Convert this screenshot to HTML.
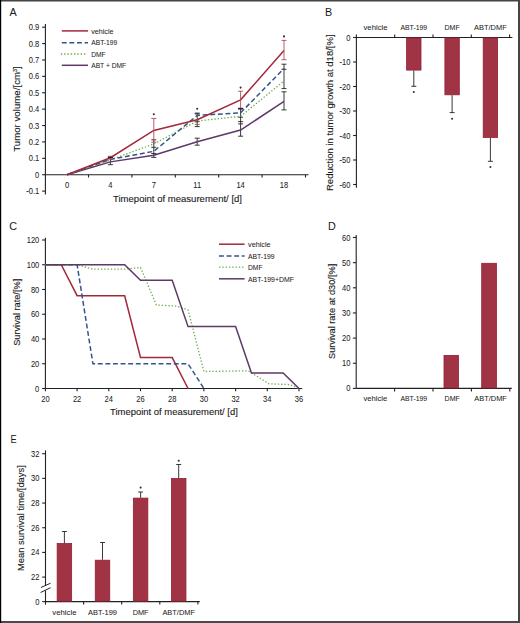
<!DOCTYPE html><html><head><meta charset="utf-8"><style>html,body{margin:0;padding:0;background:#fff;}svg{display:block;}</style></head><body>
<svg width="520" height="623" viewBox="0 0 520 623" font-family='"Liberation Sans", sans-serif'>
<rect x="0" y="0" width="520" height="623" fill="#fff"/>
<rect x="0" y="0" width="520" height="1.5" fill="#444"/>
<rect x="518" y="0" width="2" height="623" fill="#444"/>
<rect x="0" y="621" width="520" height="2" fill="#4a4a4a"/>
<rect x="0" y="0" width="1.2" height="623" fill="#000"/>
<text x="9.50" y="15.90" font-size="10.8" text-anchor="start" fill="#1a1a1a" stroke="#1a1a1a" stroke-width="0.04" >A</text>
<line x1="45.40" y1="23.90" x2="45.40" y2="194.40" stroke="#222" stroke-width="1.1" />
<line x1="42.10" y1="191.09" x2="45.40" y2="191.09" stroke="#222" stroke-width="1.1" />
<text x="39.30" y="194.09" font-size="8.2" text-anchor="end" fill="#1a1a1a" stroke="#1a1a1a" stroke-width="0.04" textLength="13.00" lengthAdjust="spacingAndGlyphs" >-0.1</text>
<line x1="42.10" y1="174.70" x2="45.40" y2="174.70" stroke="#222" stroke-width="1.1" />
<text x="39.30" y="177.70" font-size="8.2" text-anchor="end" fill="#1a1a1a" stroke="#1a1a1a" stroke-width="0.04" textLength="4.20" lengthAdjust="spacingAndGlyphs" >0</text>
<line x1="42.10" y1="158.31" x2="45.40" y2="158.31" stroke="#222" stroke-width="1.1" />
<text x="39.30" y="161.31" font-size="8.2" text-anchor="end" fill="#1a1a1a" stroke="#1a1a1a" stroke-width="0.04" textLength="10.49" lengthAdjust="spacingAndGlyphs" >0.1</text>
<line x1="42.10" y1="141.92" x2="45.40" y2="141.92" stroke="#222" stroke-width="1.1" />
<text x="39.30" y="144.92" font-size="8.2" text-anchor="end" fill="#1a1a1a" stroke="#1a1a1a" stroke-width="0.04" textLength="10.49" lengthAdjust="spacingAndGlyphs" >0.2</text>
<line x1="42.10" y1="125.53" x2="45.40" y2="125.53" stroke="#222" stroke-width="1.1" />
<text x="39.30" y="128.53" font-size="8.2" text-anchor="end" fill="#1a1a1a" stroke="#1a1a1a" stroke-width="0.04" textLength="10.49" lengthAdjust="spacingAndGlyphs" >0.3</text>
<line x1="42.10" y1="109.14" x2="45.40" y2="109.14" stroke="#222" stroke-width="1.1" />
<text x="39.30" y="112.14" font-size="8.2" text-anchor="end" fill="#1a1a1a" stroke="#1a1a1a" stroke-width="0.04" textLength="10.49" lengthAdjust="spacingAndGlyphs" >0.4</text>
<line x1="42.10" y1="92.75" x2="45.40" y2="92.75" stroke="#222" stroke-width="1.1" />
<text x="39.30" y="95.75" font-size="8.2" text-anchor="end" fill="#1a1a1a" stroke="#1a1a1a" stroke-width="0.04" textLength="10.49" lengthAdjust="spacingAndGlyphs" >0.5</text>
<line x1="42.10" y1="76.36" x2="45.40" y2="76.36" stroke="#222" stroke-width="1.1" />
<text x="39.30" y="79.36" font-size="8.2" text-anchor="end" fill="#1a1a1a" stroke="#1a1a1a" stroke-width="0.04" textLength="10.49" lengthAdjust="spacingAndGlyphs" >0.6</text>
<line x1="42.10" y1="59.97" x2="45.40" y2="59.97" stroke="#222" stroke-width="1.1" />
<text x="39.30" y="62.97" font-size="8.2" text-anchor="end" fill="#1a1a1a" stroke="#1a1a1a" stroke-width="0.04" textLength="10.49" lengthAdjust="spacingAndGlyphs" >0.7</text>
<line x1="42.10" y1="43.58" x2="45.40" y2="43.58" stroke="#222" stroke-width="1.1" />
<text x="39.30" y="46.58" font-size="8.2" text-anchor="end" fill="#1a1a1a" stroke="#1a1a1a" stroke-width="0.04" textLength="10.49" lengthAdjust="spacingAndGlyphs" >0.8</text>
<line x1="42.10" y1="27.19" x2="45.40" y2="27.19" stroke="#222" stroke-width="1.1" />
<text x="39.30" y="30.19" font-size="8.2" text-anchor="end" fill="#1a1a1a" stroke="#1a1a1a" stroke-width="0.04" textLength="10.49" lengthAdjust="spacingAndGlyphs" >0.9</text>
<line x1="45.40" y1="174.70" x2="308.50" y2="174.70" stroke="#222" stroke-width="1.1" />
<line x1="88.50" y1="174.70" x2="88.50" y2="177.50" stroke="#222" stroke-width="1.1" />
<line x1="131.90" y1="174.70" x2="131.90" y2="177.50" stroke="#222" stroke-width="1.1" />
<line x1="175.30" y1="174.70" x2="175.30" y2="177.50" stroke="#222" stroke-width="1.1" />
<line x1="218.70" y1="174.70" x2="218.70" y2="177.50" stroke="#222" stroke-width="1.1" />
<line x1="262.10" y1="174.70" x2="262.10" y2="177.50" stroke="#222" stroke-width="1.1" />
<line x1="305.50" y1="174.70" x2="305.50" y2="177.50" stroke="#222" stroke-width="1.1" />
<text x="67.00" y="188.30" font-size="8.2" text-anchor="middle" fill="#1a1a1a" stroke="#1a1a1a" stroke-width="0.04" textLength="4.20" lengthAdjust="spacingAndGlyphs" >0</text>
<text x="110.40" y="188.30" font-size="8.2" text-anchor="middle" fill="#1a1a1a" stroke="#1a1a1a" stroke-width="0.04" textLength="4.20" lengthAdjust="spacingAndGlyphs" >4</text>
<text x="153.80" y="188.30" font-size="8.2" text-anchor="middle" fill="#1a1a1a" stroke="#1a1a1a" stroke-width="0.04" textLength="4.20" lengthAdjust="spacingAndGlyphs" >7</text>
<text x="197.20" y="188.30" font-size="8.2" text-anchor="middle" fill="#1a1a1a" stroke="#1a1a1a" stroke-width="0.04" textLength="7.83" lengthAdjust="spacingAndGlyphs" >11</text>
<text x="240.60" y="188.30" font-size="8.2" text-anchor="middle" fill="#1a1a1a" stroke="#1a1a1a" stroke-width="0.04" textLength="8.39" lengthAdjust="spacingAndGlyphs" >14</text>
<text x="284.00" y="188.30" font-size="8.2" text-anchor="middle" fill="#1a1a1a" stroke="#1a1a1a" stroke-width="0.04" textLength="8.39" lengthAdjust="spacingAndGlyphs" >18</text>
<text x="113.00" y="201.50" font-size="9.8" text-anchor="start" fill="#1a1a1a" stroke="#1a1a1a" stroke-width="0.12" textLength="129.00" lengthAdjust="spacingAndGlyphs" >Timepoint of measurement/ [d]</text>
<text transform="translate(19.8,151.8) rotate(-90)" font-size="9.8" stroke="#1a1a1a" stroke-width="0.12" fill="#1a1a1a" textLength="85.6" lengthAdjust="spacingAndGlyphs">Tumor volume/[cm<tspan font-size="5.5" dy="-3">3</tspan><tspan dy="3">]</tspan></text>
<line x1="61.80" y1="30.90" x2="88.00" y2="30.90" stroke="#a3283a" stroke-width="1.5" />
<line x1="61.80" y1="42.70" x2="88.00" y2="42.70" stroke="#33568a" stroke-width="1.5" stroke-dasharray="4.9 2.7"/>
<line x1="60.80" y1="54.00" x2="87.00" y2="54.00" stroke="#6fae4e" stroke-width="1.3" stroke-dasharray="1.4 1.9"/>
<line x1="61.80" y1="65.30" x2="88.00" y2="65.30" stroke="#5e3868" stroke-width="1.5" />
<text x="91.20" y="33.60" font-size="7.9" text-anchor="start" fill="#1a1a1a" stroke="#1a1a1a" stroke-width="0.04" textLength="22.30" lengthAdjust="spacingAndGlyphs" >vehicle</text>
<text x="91.20" y="45.40" font-size="7.9" text-anchor="start" fill="#1a1a1a" stroke="#1a1a1a" stroke-width="0.04" textLength="26.10" lengthAdjust="spacingAndGlyphs" >ABT-199</text>
<text x="91.20" y="56.70" font-size="7.9" text-anchor="start" fill="#1a1a1a" stroke="#1a1a1a" stroke-width="0.04" textLength="14.50" lengthAdjust="spacingAndGlyphs" >DMF</text>
<text x="91.20" y="68.00" font-size="7.9" text-anchor="start" fill="#1a1a1a" stroke="#1a1a1a" stroke-width="0.04" textLength="35.00" lengthAdjust="spacingAndGlyphs" >ABT + DMF</text>
<line x1="110.40" y1="157.30" x2="110.40" y2="164.70" stroke="#222" stroke-width="0.9" />
<line x1="107.90" y1="157.30" x2="112.90" y2="157.30" stroke="#222" stroke-width="0.9" />
<line x1="107.90" y1="164.70" x2="112.90" y2="164.70" stroke="#222" stroke-width="0.9" />
<line x1="153.80" y1="139.80" x2="153.80" y2="157.40" stroke="#222" stroke-width="0.9" />
<line x1="151.30" y1="139.80" x2="156.30" y2="139.80" stroke="#222" stroke-width="0.9" />
<line x1="151.30" y1="157.40" x2="156.30" y2="157.40" stroke="#222" stroke-width="0.9" />
<line x1="151.30" y1="147.30" x2="156.30" y2="147.30" stroke="#222" stroke-width="0.9" />
<line x1="151.30" y1="153.50" x2="156.30" y2="153.50" stroke="#222" stroke-width="0.9" />
<line x1="197.20" y1="113.10" x2="197.20" y2="126.60" stroke="#222" stroke-width="0.9" />
<line x1="194.70" y1="113.10" x2="199.70" y2="113.10" stroke="#222" stroke-width="0.9" />
<line x1="194.70" y1="126.60" x2="199.70" y2="126.60" stroke="#222" stroke-width="0.9" />
<line x1="194.70" y1="113.90" x2="199.70" y2="113.90" stroke="#222" stroke-width="0.9" />
<line x1="194.70" y1="121.70" x2="199.70" y2="121.70" stroke="#222" stroke-width="0.9" />
<line x1="197.20" y1="138.20" x2="197.20" y2="145.20" stroke="#222" stroke-width="0.9" />
<line x1="194.70" y1="138.20" x2="199.70" y2="138.20" stroke="#222" stroke-width="0.9" />
<line x1="194.70" y1="145.20" x2="199.70" y2="145.20" stroke="#222" stroke-width="0.9" />
<line x1="240.60" y1="108.70" x2="240.60" y2="136.20" stroke="#222" stroke-width="0.9" />
<line x1="238.10" y1="108.70" x2="243.10" y2="108.70" stroke="#222" stroke-width="0.9" />
<line x1="238.10" y1="136.20" x2="243.10" y2="136.20" stroke="#222" stroke-width="0.9" />
<line x1="238.10" y1="117.20" x2="243.10" y2="117.20" stroke="#222" stroke-width="0.9" />
<line x1="238.10" y1="121.60" x2="243.10" y2="121.60" stroke="#222" stroke-width="0.9" />
<line x1="238.10" y1="123.90" x2="243.10" y2="123.90" stroke="#222" stroke-width="0.9" />
<line x1="284.00" y1="64.20" x2="284.00" y2="88.60" stroke="#222" stroke-width="0.9" />
<line x1="281.50" y1="64.20" x2="286.50" y2="64.20" stroke="#222" stroke-width="0.9" />
<line x1="281.50" y1="88.60" x2="286.50" y2="88.60" stroke="#222" stroke-width="0.9" />
<line x1="281.50" y1="69.30" x2="286.50" y2="69.30" stroke="#222" stroke-width="0.9" />
<line x1="284.00" y1="91.80" x2="284.00" y2="109.90" stroke="#222" stroke-width="0.9" />
<line x1="281.50" y1="91.80" x2="286.50" y2="91.80" stroke="#222" stroke-width="0.9" />
<line x1="281.50" y1="109.90" x2="286.50" y2="109.90" stroke="#222" stroke-width="0.9" />
<polyline points="67.00,174.70 110.40,161.86 153.80,155.28 197.20,141.78 240.60,130.09 284.00,101.45" fill="none" stroke="#5e3868" stroke-width="1.5" stroke-linejoin="miter" stroke-linecap="butt"/>
<polyline points="67.00,174.70 110.40,159.89 153.80,143.92 197.20,121.04 240.60,116.27 284.00,81.04" fill="none" stroke="#6fae4e" stroke-width="1.3" stroke-linejoin="miter" stroke-linecap="butt" stroke-dasharray="1.4 1.9"/>
<polyline points="67.00,174.70 110.40,159.39 153.80,151.33 197.20,115.44 240.60,112.81 284.00,68.53" fill="none" stroke="#33568a" stroke-width="1.5" stroke-linejoin="miter" stroke-linecap="butt" stroke-dasharray="4.9 2.7"/>
<polyline points="67.00,174.70 110.40,157.75 153.80,130.42 197.20,119.72 240.60,99.81 284.00,50.43" fill="none" stroke="#a3283a" stroke-width="1.5" stroke-linejoin="miter" stroke-linecap="butt"/>
<line x1="110.40" y1="156.30" x2="110.40" y2="159.00" stroke="#b04a5a" stroke-width="0.9" />
<line x1="107.90" y1="156.30" x2="112.90" y2="156.30" stroke="#b04a5a" stroke-width="0.9" />
<line x1="107.90" y1="159.00" x2="112.90" y2="159.00" stroke="#b04a5a" stroke-width="0.9" />
<line x1="153.80" y1="118.40" x2="153.80" y2="142.20" stroke="#b04a5a" stroke-width="0.9" />
<line x1="151.30" y1="118.40" x2="156.30" y2="118.40" stroke="#b04a5a" stroke-width="0.9" />
<line x1="151.30" y1="142.20" x2="156.30" y2="142.20" stroke="#b04a5a" stroke-width="0.9" />
<line x1="194.70" y1="124.40" x2="199.70" y2="124.40" stroke="#b04a5a" stroke-width="0.9" />
<line x1="240.60" y1="91.20" x2="240.60" y2="108.10" stroke="#b04a5a" stroke-width="0.9" />
<line x1="238.10" y1="91.20" x2="243.10" y2="91.20" stroke="#b04a5a" stroke-width="0.9" />
<line x1="238.10" y1="108.10" x2="243.10" y2="108.10" stroke="#b04a5a" stroke-width="0.9" />
<line x1="284.00" y1="40.40" x2="284.00" y2="59.70" stroke="#b04a5a" stroke-width="0.9" />
<line x1="281.50" y1="40.40" x2="286.50" y2="40.40" stroke="#b04a5a" stroke-width="0.9" />
<line x1="281.50" y1="59.70" x2="286.50" y2="59.70" stroke="#b04a5a" stroke-width="0.9" />
<line x1="238.10" y1="108.80" x2="243.10" y2="108.80" stroke="#222" stroke-width="1.3" />
<line x1="107.90" y1="157.40" x2="112.90" y2="157.40" stroke="#222" stroke-width="1.3" />
<circle cx="153.80" cy="114.20" r="1.05" fill="#333"/>
<circle cx="197.20" cy="108.70" r="1.05" fill="#333"/>
<circle cx="240.60" cy="87.60" r="1.05" fill="#333"/>
<circle cx="284.00" cy="36.40" r="1.05" fill="#333"/>
<text x="324.90" y="16.30" font-size="10.8" text-anchor="start" fill="#1a1a1a" stroke="#1a1a1a" stroke-width="0.04" >B</text>
<line x1="356.40" y1="34.40" x2="356.40" y2="187.70" stroke="#222" stroke-width="1.1" />
<line x1="353.10" y1="37.50" x2="356.40" y2="37.50" stroke="#222" stroke-width="1.1" />
<text x="350.50" y="40.50" font-size="8.2" text-anchor="end" fill="#1a1a1a" stroke="#1a1a1a" stroke-width="0.04" textLength="4.20" lengthAdjust="spacingAndGlyphs" >0</text>
<line x1="353.10" y1="62.00" x2="356.40" y2="62.00" stroke="#222" stroke-width="1.1" />
<text x="350.50" y="65.00" font-size="8.2" text-anchor="end" fill="#1a1a1a" stroke="#1a1a1a" stroke-width="0.04" textLength="10.90" lengthAdjust="spacingAndGlyphs" >-10</text>
<line x1="353.10" y1="86.50" x2="356.40" y2="86.50" stroke="#222" stroke-width="1.1" />
<text x="350.50" y="89.50" font-size="8.2" text-anchor="end" fill="#1a1a1a" stroke="#1a1a1a" stroke-width="0.04" textLength="10.90" lengthAdjust="spacingAndGlyphs" >-20</text>
<line x1="353.10" y1="111.00" x2="356.40" y2="111.00" stroke="#222" stroke-width="1.1" />
<text x="350.50" y="114.00" font-size="8.2" text-anchor="end" fill="#1a1a1a" stroke="#1a1a1a" stroke-width="0.04" textLength="10.90" lengthAdjust="spacingAndGlyphs" >-30</text>
<line x1="353.10" y1="135.50" x2="356.40" y2="135.50" stroke="#222" stroke-width="1.1" />
<text x="350.50" y="138.50" font-size="8.2" text-anchor="end" fill="#1a1a1a" stroke="#1a1a1a" stroke-width="0.04" textLength="10.90" lengthAdjust="spacingAndGlyphs" >-40</text>
<line x1="353.10" y1="160.00" x2="356.40" y2="160.00" stroke="#222" stroke-width="1.1" />
<text x="350.50" y="163.00" font-size="8.2" text-anchor="end" fill="#1a1a1a" stroke="#1a1a1a" stroke-width="0.04" textLength="10.90" lengthAdjust="spacingAndGlyphs" >-50</text>
<line x1="353.10" y1="184.50" x2="356.40" y2="184.50" stroke="#222" stroke-width="1.1" />
<text x="350.50" y="187.50" font-size="8.2" text-anchor="end" fill="#1a1a1a" stroke="#1a1a1a" stroke-width="0.04" textLength="10.90" lengthAdjust="spacingAndGlyphs" >-60</text>
<line x1="356.40" y1="37.50" x2="512.40" y2="37.50" stroke="#222" stroke-width="1.1" />
<line x1="394.70" y1="37.50" x2="394.70" y2="34.50" stroke="#222" stroke-width="1.1" />
<line x1="433.00" y1="37.50" x2="433.00" y2="34.50" stroke="#222" stroke-width="1.1" />
<line x1="471.30" y1="37.50" x2="471.30" y2="34.50" stroke="#222" stroke-width="1.1" />
<line x1="509.60" y1="37.50" x2="509.60" y2="34.50" stroke="#222" stroke-width="1.1" />
<text x="375.50" y="29.70" font-size="8.0" text-anchor="middle" fill="#1a1a1a" stroke="#1a1a1a" stroke-width="0.04" textLength="24.00" lengthAdjust="spacingAndGlyphs" >vehicle</text>
<text x="413.80" y="29.70" font-size="8.0" text-anchor="middle" fill="#1a1a1a" stroke="#1a1a1a" stroke-width="0.04" textLength="26.80" lengthAdjust="spacingAndGlyphs" >ABT-199</text>
<text x="452.10" y="29.70" font-size="8.0" text-anchor="middle" fill="#1a1a1a" stroke="#1a1a1a" stroke-width="0.04" textLength="15.20" lengthAdjust="spacingAndGlyphs" >DMF</text>
<text x="490.40" y="29.70" font-size="8.0" text-anchor="middle" fill="#1a1a1a" stroke="#1a1a1a" stroke-width="0.04" textLength="32.60" lengthAdjust="spacingAndGlyphs" >ABT/DMF</text>
<rect x="406.60" y="37.90" width="14.40" height="32.20" fill="#a03444" stroke="#931f32" stroke-width="0.8"/>
<line x1="413.80" y1="70.50" x2="413.80" y2="86.30" stroke="#222" stroke-width="0.9" />
<line x1="411.30" y1="86.30" x2="416.30" y2="86.30" stroke="#222" stroke-width="0.9" />
<circle cx="413.80" cy="92.00" r="1.05" fill="#333"/>
<rect x="444.90" y="37.90" width="14.40" height="56.90" fill="#a03444" stroke="#931f32" stroke-width="0.8"/>
<line x1="452.10" y1="95.20" x2="452.10" y2="112.60" stroke="#222" stroke-width="0.9" />
<line x1="449.60" y1="112.60" x2="454.60" y2="112.60" stroke="#222" stroke-width="0.9" />
<circle cx="452.10" cy="118.75" r="1.05" fill="#333"/>
<rect x="483.20" y="37.90" width="14.40" height="99.50" fill="#a03444" stroke="#931f32" stroke-width="0.8"/>
<line x1="490.40" y1="137.80" x2="490.40" y2="161.30" stroke="#222" stroke-width="0.9" />
<line x1="487.90" y1="161.30" x2="492.90" y2="161.30" stroke="#222" stroke-width="0.9" />
<circle cx="490.40" cy="167.00" r="1.05" fill="#333"/>
<text transform="translate(332.60,191.00) rotate(-90)" x="0" y="0" font-size="9.8" fill="#1a1a1a" stroke="#1a1a1a" stroke-width="0.12" textLength="156.60" lengthAdjust="spacingAndGlyphs">Reduction in tumor growth at d18/[%]</text>
<text x="9.30" y="230.00" font-size="10.8" text-anchor="start" fill="#1a1a1a" stroke="#1a1a1a" stroke-width="0.04" >C</text>
<line x1="45.40" y1="237.70" x2="45.40" y2="388.50" stroke="#222" stroke-width="1.1" />
<line x1="42.10" y1="388.50" x2="45.40" y2="388.50" stroke="#222" stroke-width="1.1" />
<text x="39.30" y="391.50" font-size="8.2" text-anchor="end" fill="#1a1a1a" stroke="#1a1a1a" stroke-width="0.04" textLength="4.20" lengthAdjust="spacingAndGlyphs" >0</text>
<line x1="42.10" y1="363.75" x2="45.40" y2="363.75" stroke="#222" stroke-width="1.1" />
<text x="39.30" y="366.75" font-size="8.2" text-anchor="end" fill="#1a1a1a" stroke="#1a1a1a" stroke-width="0.04" textLength="8.39" lengthAdjust="spacingAndGlyphs" >20</text>
<line x1="42.10" y1="339.00" x2="45.40" y2="339.00" stroke="#222" stroke-width="1.1" />
<text x="39.30" y="342.00" font-size="8.2" text-anchor="end" fill="#1a1a1a" stroke="#1a1a1a" stroke-width="0.04" textLength="8.39" lengthAdjust="spacingAndGlyphs" >40</text>
<line x1="42.10" y1="314.25" x2="45.40" y2="314.25" stroke="#222" stroke-width="1.1" />
<text x="39.30" y="317.25" font-size="8.2" text-anchor="end" fill="#1a1a1a" stroke="#1a1a1a" stroke-width="0.04" textLength="8.39" lengthAdjust="spacingAndGlyphs" >60</text>
<line x1="42.10" y1="289.50" x2="45.40" y2="289.50" stroke="#222" stroke-width="1.1" />
<text x="39.30" y="292.50" font-size="8.2" text-anchor="end" fill="#1a1a1a" stroke="#1a1a1a" stroke-width="0.04" textLength="8.39" lengthAdjust="spacingAndGlyphs" >80</text>
<line x1="42.10" y1="264.75" x2="45.40" y2="264.75" stroke="#222" stroke-width="1.1" />
<text x="39.30" y="267.75" font-size="8.2" text-anchor="end" fill="#1a1a1a" stroke="#1a1a1a" stroke-width="0.04" textLength="12.59" lengthAdjust="spacingAndGlyphs" >100</text>
<line x1="42.10" y1="240.00" x2="45.40" y2="240.00" stroke="#222" stroke-width="1.1" />
<text x="39.30" y="243.00" font-size="8.2" text-anchor="end" fill="#1a1a1a" stroke="#1a1a1a" stroke-width="0.04" textLength="12.59" lengthAdjust="spacingAndGlyphs" >120</text>
<line x1="45.40" y1="388.50" x2="302.30" y2="388.50" stroke="#222" stroke-width="1.1" />
<line x1="45.40" y1="388.50" x2="45.40" y2="391.20" stroke="#222" stroke-width="1.1" />
<text x="45.40" y="402.00" font-size="8.2" text-anchor="middle" fill="#1a1a1a" stroke="#1a1a1a" stroke-width="0.04" textLength="8.39" lengthAdjust="spacingAndGlyphs" >20</text>
<line x1="77.10" y1="388.50" x2="77.10" y2="391.20" stroke="#222" stroke-width="1.1" />
<text x="77.10" y="402.00" font-size="8.2" text-anchor="middle" fill="#1a1a1a" stroke="#1a1a1a" stroke-width="0.04" textLength="8.39" lengthAdjust="spacingAndGlyphs" >22</text>
<line x1="108.80" y1="388.50" x2="108.80" y2="391.20" stroke="#222" stroke-width="1.1" />
<text x="108.80" y="402.00" font-size="8.2" text-anchor="middle" fill="#1a1a1a" stroke="#1a1a1a" stroke-width="0.04" textLength="8.39" lengthAdjust="spacingAndGlyphs" >24</text>
<line x1="140.50" y1="388.50" x2="140.50" y2="391.20" stroke="#222" stroke-width="1.1" />
<text x="140.50" y="402.00" font-size="8.2" text-anchor="middle" fill="#1a1a1a" stroke="#1a1a1a" stroke-width="0.04" textLength="8.39" lengthAdjust="spacingAndGlyphs" >26</text>
<line x1="172.20" y1="388.50" x2="172.20" y2="391.20" stroke="#222" stroke-width="1.1" />
<text x="172.20" y="402.00" font-size="8.2" text-anchor="middle" fill="#1a1a1a" stroke="#1a1a1a" stroke-width="0.04" textLength="8.39" lengthAdjust="spacingAndGlyphs" >28</text>
<line x1="203.90" y1="388.50" x2="203.90" y2="391.20" stroke="#222" stroke-width="1.1" />
<text x="203.90" y="402.00" font-size="8.2" text-anchor="middle" fill="#1a1a1a" stroke="#1a1a1a" stroke-width="0.04" textLength="8.39" lengthAdjust="spacingAndGlyphs" >30</text>
<line x1="235.60" y1="388.50" x2="235.60" y2="391.20" stroke="#222" stroke-width="1.1" />
<text x="235.60" y="402.00" font-size="8.2" text-anchor="middle" fill="#1a1a1a" stroke="#1a1a1a" stroke-width="0.04" textLength="8.39" lengthAdjust="spacingAndGlyphs" >32</text>
<line x1="267.30" y1="388.50" x2="267.30" y2="391.20" stroke="#222" stroke-width="1.1" />
<text x="267.30" y="402.00" font-size="8.2" text-anchor="middle" fill="#1a1a1a" stroke="#1a1a1a" stroke-width="0.04" textLength="8.39" lengthAdjust="spacingAndGlyphs" >34</text>
<line x1="299.00" y1="388.50" x2="299.00" y2="391.20" stroke="#222" stroke-width="1.1" />
<text x="299.00" y="402.00" font-size="8.2" text-anchor="middle" fill="#1a1a1a" stroke="#1a1a1a" stroke-width="0.04" textLength="8.39" lengthAdjust="spacingAndGlyphs" >36</text>
<text x="110.10" y="414.70" font-size="9.8" text-anchor="start" fill="#1a1a1a" stroke="#1a1a1a" stroke-width="0.12" textLength="127.70" lengthAdjust="spacingAndGlyphs" >Timepoint of measurement/ [d]</text>
<text transform="translate(19.50,345.80) rotate(-90)" x="0" y="0" font-size="9.8" fill="#1a1a1a" stroke="#1a1a1a" stroke-width="0.12" textLength="67.00" lengthAdjust="spacingAndGlyphs">Survival rate/[%]</text>
<line x1="219.00" y1="244.20" x2="244.60" y2="244.20" stroke="#a3283a" stroke-width="1.5" />
<line x1="219.00" y1="256.00" x2="244.60" y2="256.00" stroke="#33568a" stroke-width="1.5" stroke-dasharray="4.9 2.7"/>
<line x1="219.00" y1="267.20" x2="244.60" y2="267.20" stroke="#6fae4e" stroke-width="1.3" stroke-dasharray="1.4 1.9"/>
<line x1="219.00" y1="278.80" x2="244.60" y2="278.80" stroke="#5e3868" stroke-width="1.5" />
<text x="248.00" y="246.90" font-size="7.9" text-anchor="start" fill="#1a1a1a" stroke="#1a1a1a" stroke-width="0.04" textLength="22.60" lengthAdjust="spacingAndGlyphs" >vehicle</text>
<text x="248.00" y="258.70" font-size="7.9" text-anchor="start" fill="#1a1a1a" stroke="#1a1a1a" stroke-width="0.04" textLength="26.50" lengthAdjust="spacingAndGlyphs" >ABT-199</text>
<text x="248.00" y="269.90" font-size="7.9" text-anchor="start" fill="#1a1a1a" stroke="#1a1a1a" stroke-width="0.04" textLength="14.50" lengthAdjust="spacingAndGlyphs" >DMF</text>
<text x="248.00" y="281.50" font-size="7.9" text-anchor="start" fill="#1a1a1a" stroke="#1a1a1a" stroke-width="0.04" textLength="46.00" lengthAdjust="spacingAndGlyphs" >ABT-199+DMF</text>
<polyline points="45.40,264.75 61.25,264.75 77.10,295.69 124.65,295.69 140.50,357.56 172.20,357.56 188.05,388.50" fill="none" stroke="#a3283a" stroke-width="1.5" stroke-linejoin="miter" stroke-linecap="butt"/>
<polyline points="45.40,264.75 77.10,264.75 92.95,363.75 188.05,363.75 203.90,388.50" fill="none" stroke="#33568a" stroke-width="1.5" stroke-linejoin="miter" stroke-linecap="butt" stroke-dasharray="4.9 2.7"/>
<polyline points="45.40,264.75 77.10,264.75 92.95,269.20 124.65,269.20 140.50,267.47 156.35,304.97 176.96,306.21 188.05,309.92 203.90,371.55 248.28,370.80 268.88,383.80 289.49,384.54 299.00,388.50" fill="none" stroke="#6fae4e" stroke-width="1.3" stroke-linejoin="miter" stroke-linecap="butt" stroke-dasharray="1.4 1.9"/>
<polyline points="45.40,264.75 124.65,264.75 140.50,280.22 172.20,280.22 188.05,326.62 235.60,326.62 251.45,373.03 283.15,373.03 299.00,388.50" fill="none" stroke="#5e3868" stroke-width="1.5" stroke-linejoin="miter" stroke-linecap="butt"/>
<text x="327.90" y="229.60" font-size="10.8" text-anchor="start" fill="#1a1a1a" stroke="#1a1a1a" stroke-width="0.04" >D</text>
<line x1="356.20" y1="235.00" x2="356.20" y2="388.40" stroke="#222" stroke-width="1.1" />
<line x1="352.90" y1="388.40" x2="356.20" y2="388.40" stroke="#222" stroke-width="1.1" />
<text x="350.40" y="391.40" font-size="8.2" text-anchor="end" fill="#1a1a1a" stroke="#1a1a1a" stroke-width="0.04" textLength="4.20" lengthAdjust="spacingAndGlyphs" >0</text>
<line x1="352.90" y1="363.25" x2="356.20" y2="363.25" stroke="#222" stroke-width="1.1" />
<text x="350.40" y="366.25" font-size="8.2" text-anchor="end" fill="#1a1a1a" stroke="#1a1a1a" stroke-width="0.04" textLength="8.39" lengthAdjust="spacingAndGlyphs" >10</text>
<line x1="352.90" y1="338.10" x2="356.20" y2="338.10" stroke="#222" stroke-width="1.1" />
<text x="350.40" y="341.10" font-size="8.2" text-anchor="end" fill="#1a1a1a" stroke="#1a1a1a" stroke-width="0.04" textLength="8.39" lengthAdjust="spacingAndGlyphs" >20</text>
<line x1="352.90" y1="312.95" x2="356.20" y2="312.95" stroke="#222" stroke-width="1.1" />
<text x="350.40" y="315.95" font-size="8.2" text-anchor="end" fill="#1a1a1a" stroke="#1a1a1a" stroke-width="0.04" textLength="8.39" lengthAdjust="spacingAndGlyphs" >30</text>
<line x1="352.90" y1="287.80" x2="356.20" y2="287.80" stroke="#222" stroke-width="1.1" />
<text x="350.40" y="290.80" font-size="8.2" text-anchor="end" fill="#1a1a1a" stroke="#1a1a1a" stroke-width="0.04" textLength="8.39" lengthAdjust="spacingAndGlyphs" >40</text>
<line x1="352.90" y1="262.65" x2="356.20" y2="262.65" stroke="#222" stroke-width="1.1" />
<text x="350.40" y="265.65" font-size="8.2" text-anchor="end" fill="#1a1a1a" stroke="#1a1a1a" stroke-width="0.04" textLength="8.39" lengthAdjust="spacingAndGlyphs" >50</text>
<line x1="352.90" y1="237.50" x2="356.20" y2="237.50" stroke="#222" stroke-width="1.1" />
<text x="350.40" y="240.50" font-size="8.2" text-anchor="end" fill="#1a1a1a" stroke="#1a1a1a" stroke-width="0.04" textLength="8.39" lengthAdjust="spacingAndGlyphs" >60</text>
<line x1="356.20" y1="388.40" x2="511.80" y2="388.40" stroke="#222" stroke-width="1.1" />
<line x1="394.60" y1="388.40" x2="394.60" y2="391.40" stroke="#222" stroke-width="1.1" />
<line x1="433.00" y1="388.40" x2="433.00" y2="391.40" stroke="#222" stroke-width="1.1" />
<line x1="471.40" y1="388.40" x2="471.40" y2="391.40" stroke="#222" stroke-width="1.1" />
<line x1="509.80" y1="388.40" x2="509.80" y2="391.40" stroke="#222" stroke-width="1.1" />
<text x="375.40" y="401.30" font-size="8.0" text-anchor="middle" fill="#1a1a1a" stroke="#1a1a1a" stroke-width="0.04" textLength="23.70" lengthAdjust="spacingAndGlyphs" >vehicle</text>
<text x="413.80" y="401.30" font-size="8.0" text-anchor="middle" fill="#1a1a1a" stroke="#1a1a1a" stroke-width="0.04" textLength="26.80" lengthAdjust="spacingAndGlyphs" >ABT-199</text>
<text x="452.20" y="401.30" font-size="8.0" text-anchor="middle" fill="#1a1a1a" stroke="#1a1a1a" stroke-width="0.04" textLength="15.30" lengthAdjust="spacingAndGlyphs" >DMF</text>
<text x="490.60" y="401.30" font-size="8.0" text-anchor="middle" fill="#1a1a1a" stroke="#1a1a1a" stroke-width="0.04" textLength="32.60" lengthAdjust="spacingAndGlyphs" >ABT/DMF</text>
<rect x="444.00" y="355.40" width="14.50" height="32.60" fill="#a03444" stroke="#931f32" stroke-width="0.8"/>
<rect x="481.70" y="263.30" width="14.70" height="124.70" fill="#a03444" stroke="#931f32" stroke-width="0.8"/>
<text transform="translate(334.90,359.00) rotate(-90)" x="0" y="0" font-size="9.8" fill="#1a1a1a" stroke="#1a1a1a" stroke-width="0.12" textLength="95.20" lengthAdjust="spacingAndGlyphs">Survival rate at d30/[%]</text>
<text x="10.50" y="443.10" font-size="10.8" text-anchor="start" fill="#1a1a1a" stroke="#1a1a1a" stroke-width="0.04" textLength="6.12" lengthAdjust="spacingAndGlyphs" >E</text>
<line x1="45.50" y1="450.40" x2="45.50" y2="585.40" stroke="#222" stroke-width="1.1" />
<line x1="45.50" y1="590.60" x2="45.50" y2="604.70" stroke="#222" stroke-width="1.1" />
<line x1="42.20" y1="453.70" x2="45.50" y2="453.70" stroke="#222" stroke-width="1.1" />
<text x="39.40" y="456.70" font-size="8.2" text-anchor="end" fill="#1a1a1a" stroke="#1a1a1a" stroke-width="0.04" textLength="8.39" lengthAdjust="spacingAndGlyphs" >32</text>
<line x1="42.20" y1="478.38" x2="45.50" y2="478.38" stroke="#222" stroke-width="1.1" />
<text x="39.40" y="481.38" font-size="8.2" text-anchor="end" fill="#1a1a1a" stroke="#1a1a1a" stroke-width="0.04" textLength="8.39" lengthAdjust="spacingAndGlyphs" >30</text>
<line x1="42.20" y1="503.06" x2="45.50" y2="503.06" stroke="#222" stroke-width="1.1" />
<text x="39.40" y="506.06" font-size="8.2" text-anchor="end" fill="#1a1a1a" stroke="#1a1a1a" stroke-width="0.04" textLength="8.39" lengthAdjust="spacingAndGlyphs" >28</text>
<line x1="42.20" y1="527.74" x2="45.50" y2="527.74" stroke="#222" stroke-width="1.1" />
<text x="39.40" y="530.74" font-size="8.2" text-anchor="end" fill="#1a1a1a" stroke="#1a1a1a" stroke-width="0.04" textLength="8.39" lengthAdjust="spacingAndGlyphs" >26</text>
<line x1="42.20" y1="552.42" x2="45.50" y2="552.42" stroke="#222" stroke-width="1.1" />
<text x="39.40" y="555.42" font-size="8.2" text-anchor="end" fill="#1a1a1a" stroke="#1a1a1a" stroke-width="0.04" textLength="8.39" lengthAdjust="spacingAndGlyphs" >24</text>
<line x1="42.20" y1="577.10" x2="45.50" y2="577.10" stroke="#222" stroke-width="1.1" />
<text x="39.40" y="580.10" font-size="8.2" text-anchor="end" fill="#1a1a1a" stroke="#1a1a1a" stroke-width="0.04" textLength="8.39" lengthAdjust="spacingAndGlyphs" >22</text>
<line x1="42.20" y1="601.60" x2="45.50" y2="601.60" stroke="#222" stroke-width="1.1" />
<text x="39.40" y="604.60" font-size="8.2" text-anchor="end" fill="#1a1a1a" stroke="#1a1a1a" stroke-width="0.04" textLength="4.20" lengthAdjust="spacingAndGlyphs" >0</text>
<line x1="40.90" y1="587.50" x2="50.60" y2="583.20" stroke="#222" stroke-width="1.0" />
<line x1="40.60" y1="592.50" x2="50.60" y2="587.70" stroke="#222" stroke-width="1.0" />
<line x1="45.50" y1="601.60" x2="199.80" y2="601.60" stroke="#222" stroke-width="1.1" />
<line x1="83.60" y1="601.60" x2="83.60" y2="604.60" stroke="#222" stroke-width="1.1" />
<line x1="121.70" y1="601.60" x2="121.70" y2="604.60" stroke="#222" stroke-width="1.1" />
<line x1="159.80" y1="601.60" x2="159.80" y2="604.60" stroke="#222" stroke-width="1.1" />
<line x1="197.90" y1="601.60" x2="197.90" y2="604.60" stroke="#222" stroke-width="1.1" />
<text x="64.40" y="614.70" font-size="8.0" text-anchor="middle" fill="#1a1a1a" stroke="#1a1a1a" stroke-width="0.04" textLength="24.20" lengthAdjust="spacingAndGlyphs" >vehicle</text>
<text x="102.50" y="614.70" font-size="8.0" text-anchor="middle" fill="#1a1a1a" stroke="#1a1a1a" stroke-width="0.04" textLength="29.00" lengthAdjust="spacingAndGlyphs" >ABT-199</text>
<text x="140.60" y="614.70" font-size="8.0" text-anchor="middle" fill="#1a1a1a" stroke="#1a1a1a" stroke-width="0.04" textLength="15.90" lengthAdjust="spacingAndGlyphs" >DMF</text>
<text x="178.70" y="614.70" font-size="8.0" text-anchor="middle" fill="#1a1a1a" stroke="#1a1a1a" stroke-width="0.04" textLength="32.60" lengthAdjust="spacingAndGlyphs" >ABT/DMF</text>
<line x1="64.40" y1="543.10" x2="64.40" y2="531.50" stroke="#222" stroke-width="0.9" />
<line x1="61.90" y1="531.50" x2="66.90" y2="531.50" stroke="#222" stroke-width="0.9" />
<rect x="57.15" y="543.50" width="14.50" height="57.70" fill="#a03444" stroke="#931f32" stroke-width="0.8"/>
<line x1="102.50" y1="559.80" x2="102.50" y2="542.50" stroke="#222" stroke-width="0.9" />
<line x1="100.00" y1="542.50" x2="105.00" y2="542.50" stroke="#222" stroke-width="0.9" />
<rect x="95.25" y="560.20" width="14.50" height="41.00" fill="#a03444" stroke="#931f32" stroke-width="0.8"/>
<line x1="140.60" y1="497.70" x2="140.60" y2="492.00" stroke="#222" stroke-width="0.9" />
<line x1="138.10" y1="492.00" x2="143.10" y2="492.00" stroke="#222" stroke-width="0.9" />
<rect x="133.35" y="498.10" width="14.50" height="103.10" fill="#a03444" stroke="#931f32" stroke-width="0.8"/>
<circle cx="140.60" cy="487.60" r="1.05" fill="#333"/>
<line x1="178.70" y1="478.10" x2="178.70" y2="464.50" stroke="#222" stroke-width="0.9" />
<line x1="176.20" y1="464.50" x2="181.20" y2="464.50" stroke="#222" stroke-width="0.9" />
<rect x="171.45" y="478.50" width="14.50" height="122.70" fill="#a03444" stroke="#931f32" stroke-width="0.8"/>
<circle cx="178.70" cy="460.80" r="1.05" fill="#333"/>
<text transform="translate(24.20,571.00) rotate(-90)" x="0" y="0" font-size="9.8" fill="#1a1a1a" stroke="#1a1a1a" stroke-width="0.12" textLength="105.80" lengthAdjust="spacingAndGlyphs">Mean survival time/[days]</text>
</svg></body></html>
